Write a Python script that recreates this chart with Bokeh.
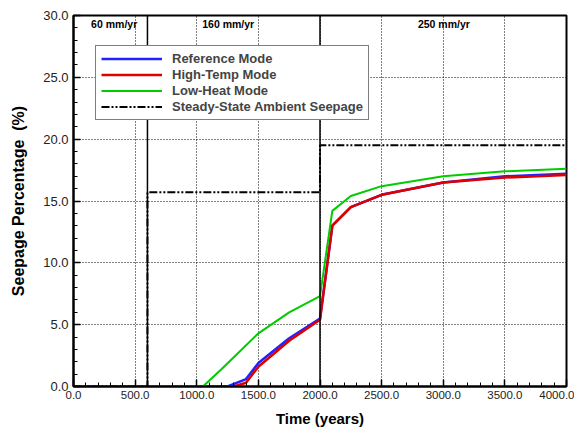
from bokeh.plotting import figure
from bokeh.models import Span, Legend, LegendItem, FixedTicker, Range1d, NumeralTickFormatter
from bokeh.embed import file_html
from bokeh.resources import INLINE
from bokeh.core.properties import value

# Data
ref_t = [0, 1250, 1400, 1500, 1750, 2000, 2100, 2250, 2500, 3000, 3500, 4000]
ref_s = [0.0, 0.0, 0.6, 1.9, 3.9, 5.5, 13.0, 14.5, 15.5, 16.5, 17.0, 17.2]
hot_t = [0, 1300, 1400, 1500, 1750, 2000, 2100, 2250, 2500, 3000, 3500, 4000]
hot_s = [0.0, 0.0, 0.3, 1.6, 3.7, 5.4, 13.0, 14.5, 15.5, 16.5, 16.9, 17.1]
low_t = [0, 1050, 1200, 1500, 1750, 2000, 2100, 2250, 2500, 3000, 3500, 4000]
low_s = [0.0, 0.0, 1.4, 4.3, 6.0, 7.3, 14.2, 15.4, 16.2, 17.0, 17.4, 17.6]
amb_t = [0, 600, 600, 2000, 2000, 4000]
amb_s = [0.0, 0.0, 15.7, 15.7, 19.5, 19.5]
period_bounds = [600, 2000]
period_labels = ["60 mm/yr", "160 mm/yr", "250 mm/yr"]
period_label_x = [330, 1255, 3005]
x_ticks = [0, 500, 1000, 1500, 2000, 2500, 3000, 3500, 4000]
y_ticks = [0, 5, 10, 15, 20, 25, 30]

p = figure(width=574, height=429, output_backend="svg", toolbar_location=None,
           x_range=Range1d(0, 4000), y_range=Range1d(0, 30),
           min_border_left=73, min_border_right=8, min_border_top=15, min_border_bottom=43)
p.background_fill_color = "white"
p.border_fill_color = "white"
p.outline_line_color = "black"
p.outline_line_width = 2

for ax in (p.xaxis[0], p.yaxis[0]):
    ax.axis_line_color = "black"
    ax.axis_line_width = 2
    ax.major_tick_in = 7
    ax.major_tick_out = 0
    ax.minor_tick_in = 4
    ax.minor_tick_out = 0
    ax.major_tick_line_width = 1.5
    ax.major_tick_line_color = "black"
    ax.minor_tick_line_color = "black"
    ax.major_label_text_font = "Liberation Sans"
    ax.axis_label_text_font = "Liberation Sans"
    ax.axis_label_text_font_style = "bold"
    ax.axis_label_text_font_size = "15px"
    ax.axis_label_text_color = "black"
    ax.major_label_text_color = "#222222"

p.xaxis.ticker = FixedTicker(ticks=x_ticks, minor_ticks=list(range(0, 4001, 100)))
p.yaxis.ticker = FixedTicker(ticks=y_ticks, minor_ticks=list(range(0, 31, 1)))
p.xaxis.formatter = NumeralTickFormatter(format="0.0")
p.yaxis.formatter = NumeralTickFormatter(format="0.0")
p.xaxis.major_label_text_font_size = "11.5px"
p.yaxis.major_label_text_font_size = "13px"
p.xaxis.major_label_standoff = 4
p.yaxis.major_label_standoff = 5
p.xaxis.axis_label = "Time (years)"
p.yaxis.axis_label = "Seepage Percentage\u00a0\u00a0(%)"
p.xaxis.axis_label_standoff = 8
p.yaxis.axis_label_standoff = 13
p.yaxis.axis_label_text_font_size = "16px"

p.grid.grid_line_color = "black"
p.grid.grid_line_dash = "1 2"
p.grid.grid_line_width = 1
p.grid.grid_line_alpha = 1.0

for b in period_bounds:
    p.add_layout(Span(location=b, dimension="height", line_color="black", line_width=1.5))

r_ref = p.line(ref_t, ref_s, line_color="#2222ff", line_width=2.5)
r_hot = p.line(hot_t, hot_s, line_color="#dd0000", line_width=2.5)
r_low = p.line(low_t, low_s, line_color="#00cc00", line_width=2)
r_amb = p.line(amb_t, amb_s, line_color="black", line_width=2, line_dash="8 2 2 2 2 2")

p.text(x=period_label_x, y=[29.35] * 3, text=period_labels, text_font=value("Liberation Sans"),
       text_font_style="bold", text_font_size="10.5px", text_align="center", text_baseline="middle",
       text_color="black")

legend = Legend(items=[
    LegendItem(label="Reference Mode", renderers=[r_ref]),
    LegendItem(label="High-Temp Mode", renderers=[r_hot]),
    LegendItem(label="Low-Heat Mode", renderers=[r_low]),
    LegendItem(label="Steady-State Ambient Seepage", renderers=[r_amb]),
], location=(22, 266))
legend.label_text_font = "Liberation Sans"
legend.label_text_font_style = "bold"
legend.label_text_font_size = "13px"
legend.glyph_width = 61
legend.glyph_height = 15
legend.label_height = 15
legend.spacing = 1
legend.padding = 5
legend.margin = 0
legend.label_standoff = 10
legend.border_line_color = "black"
legend.border_line_width = 1.5
legend.background_fill_alpha = 1.0
p.add_layout(legend, "center")

open("out.html", "w").write(file_html(p, INLINE))
